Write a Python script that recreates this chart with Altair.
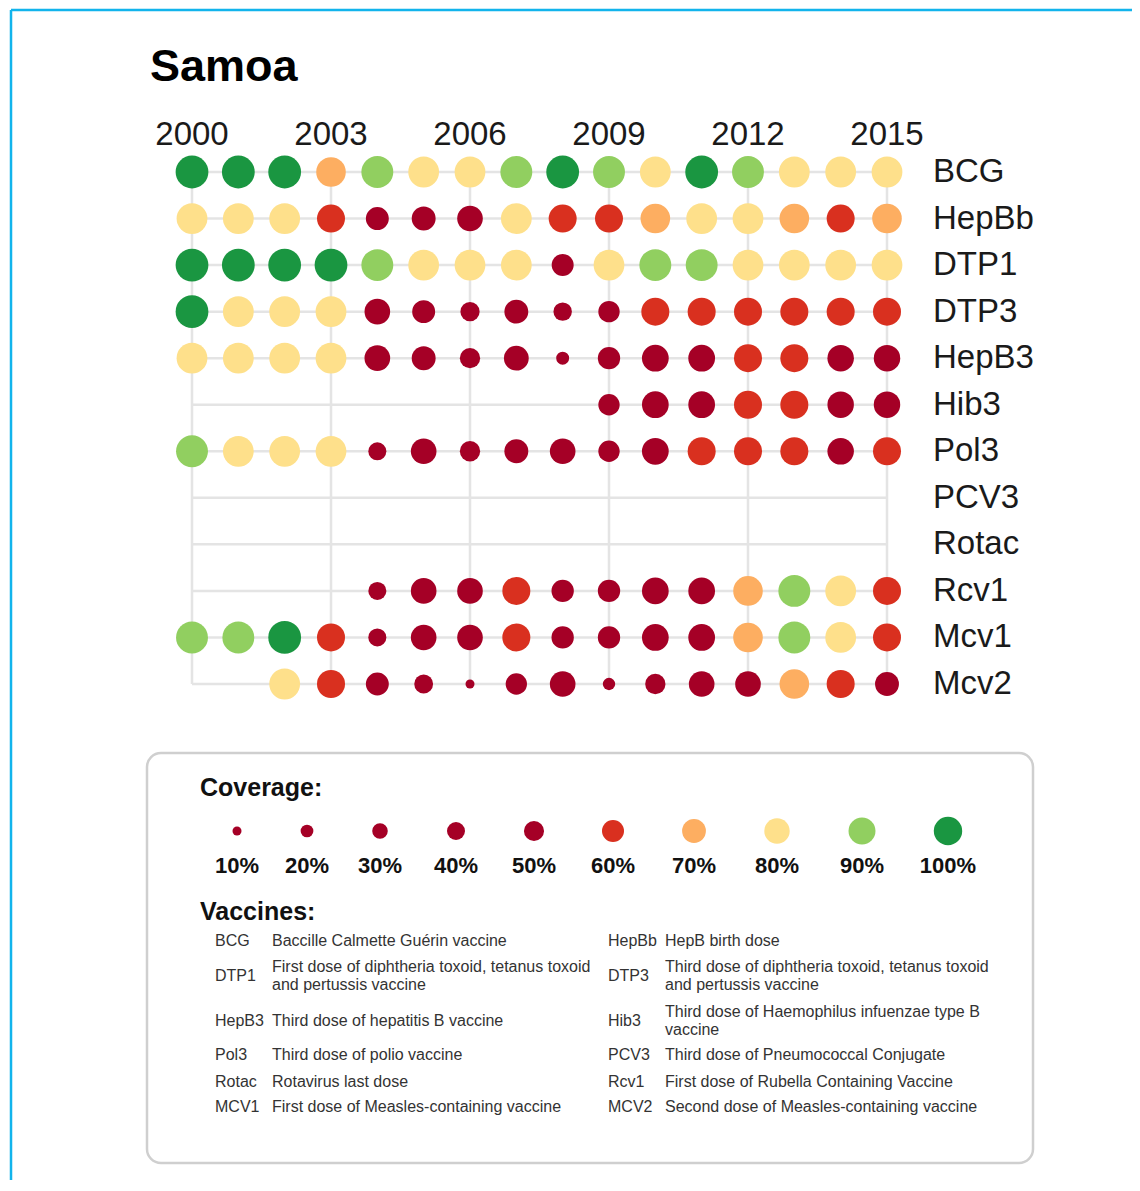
import altair as alt
import pandas as pd

# ---------------- data ----------------
country = "Samoa"
years = list(range(2000, 2016))
vaccines = ["BCG", "HepBb", "DTP1", "DTP3", "HepB3", "Hib3", "Pol3",
            "PCV3", "Rotac", "Rcv1", "Mcv1", "Mcv2"]

BCG   = [98, 98, 98, 70, 90, 80, 80, 90, 98, 90, 80, 98, 90, 80, 80, 80]
HepBb = [80, 80, 80, 60, 41, 44, 50, 80, 60, 60, 70, 80, 80, 70, 60, 70]
DTP1  = [98, 98, 98, 98, 90, 80, 80, 80, 38, 80, 90, 90, 80, 80, 80, 80]
DTP3  = [98, 80, 80, 80, 50, 41, 30, 44, 28, 36, 60, 60, 60, 60, 60, 60]
HepB3 = [80, 80, 80, 80, 50, 44, 33, 47, 16, 39, 54, 54, 60, 60, 53, 53]
Hib3  = [None] * 9 + [36, 54, 54, 60, 60, 53, 53]
Pol3  = [90, 80, 80, 80, 27, 50, 33, 44, 50, 36, 54, 60, 60, 60, 53, 60]
PCV3  = [None] * 16
Rotac = [None] * 16
Rcv1  = [None] * 4 + [27, 50, 50, 60, 39, 39, 54, 54, 70, 90, 80, 60]
Mcv1  = [90, 90, 98, 60, 27, 50, 50, 60, 39, 39, 54, 54, 70, 90, 80, 60]
Mcv2  = [None, None, 80, 60, 41, 29, 10, 36, 50, 15, 33, 50, 50, 70, 60, 44]

series = [BCG, HepBb, DTP1, DTP3, HepB3, Hib3, Pol3, PCV3, Rotac, Rcv1, Mcv1, Mcv2]

tick_years = [2000, 2003, 2006, 2009, 2012, 2015]
legend_levels = [10, 20, 30, 40, 50, 60, 70, 80, 90, 100]
legend_labels = ["10%", "20%", "30%", "40%", "50%", "60%", "70%", "80%", "90%", "100%"]

abbr_left = ["BCG", "DTP1", "HepB3", "Pol3", "Rotac", "MCV1"]
desc_left = ["Baccille Calmette Guérin vaccine",
             "First dose of diphtheria toxoid, tetanus toxoid\nand pertussis vaccine",
             "Third dose of hepatitis B vaccine",
             "Third dose of polio vaccine",
             "Rotavirus last dose",
             "First dose of Measles-containing vaccine"]
abbr_right = ["HepBb", "DTP3", "Hib3", "PCV3", "Rcv1", "MCV2"]
desc_right = ["HepB birth dose",
              "Third dose of diphtheria toxoid, tetanus toxoid\nand pertussis vaccine",
              "Third dose of Haemophilus infuenzae type B\nvaccine",
              "Third dose of Pneumococcal Conjugate",
              "First dose of Rubella Containing Vaccine",
              "Second dose of Measles-containing vaccine"]

# ---------------- tables built from the lists ----------------
dots = pd.DataFrame([
    {"vaccine": v, "year": y, "value": val}
    for v, s in zip(vaccines, series)
    for y, val in zip(years, s) if val is not None
])
hgrid = pd.DataFrame({"vaccine": vaccines, "start": years[0], "end": years[-1]})
vgrid = pd.DataFrame({"year": tick_years, "top": vaccines[0], "bottom": vaccines[-1]})
ylab = pd.DataFrame({"year": tick_years, "label": [str(y) for y in tick_years]})
vlab = pd.DataFrame({"vaccine": vaccines})
leg = pd.DataFrame({"level": legend_levels, "label": legend_labels})
table = pd.DataFrame(
    [{"abbr": a, "desc": d, "col": 0, "row": i} for i, (a, d) in enumerate(zip(abbr_left, desc_left))] +
    [{"abbr": a, "desc": d, "col": 1, "row": i} for i, (a, d) in enumerate(zip(abbr_right, desc_right))]
)
table["lines"] = table["desc"].str.count("\n") + 1
one = pd.DataFrame({"k": [0]})

# ---------------- styles ----------------
FONT = "Liberation Sans"
COLORS = ["#a50026", "#d9301f", "#fdae61", "#fee08b", "#91cf60", "#1a9641"]
THRESH = [55, 65, 75, 85, 95]
GRID = "#e4e4e4"

xs = alt.Scale(domain=[2000, 2015], range=[184, 879])
ys = alt.Scale(type="point", domain=vaccines, range=[164, 676], padding=0)
color_s = alt.Scale(type="threshold", domain=THRESH, range=COLORS)
size_s = alt.Scale(type="linear", domain=[0, 10, 55, 65, 100], range=[0, 81, 729, 841, 1089])

W, H = 1124, 1172

frame_left = alt.Chart(one).mark_rule(color="#12b4ec", strokeWidth=2.5).encode(
    x=alt.value(3), y=alt.value(2), y2=alt.value(H))
frame_top = alt.Chart(one).mark_rule(color="#12b4ec", strokeWidth=2.5).encode(
    y=alt.value(2), x=alt.value(3), x2=alt.value(W))

title = alt.Chart(one).mark_text(
    text=country, font=FONT, fontSize=45, fontWeight="bold", align="left",
    baseline="alphabetic", color="#000").encode(x=alt.value(142), y=alt.value(73))

hlines = alt.Chart(hgrid).mark_rule(color=GRID, strokeWidth=2.5).encode(
    x=alt.X("start:Q", scale=xs, axis=None), x2="end:Q",
    y=alt.Y("vaccine:N", scale=ys, axis=None))
vlines = alt.Chart(vgrid).mark_rule(color=GRID, strokeWidth=2.5).encode(
    x=alt.X("year:Q", scale=xs, axis=None),
    y=alt.Y("top:N", scale=ys, axis=None), y2="bottom:N")

points = alt.Chart(dots).mark_circle(opacity=1).encode(
    x=alt.X("year:Q", scale=xs, axis=None),
    y=alt.Y("vaccine:N", scale=ys, axis=None),
    color=alt.Color("value:Q", scale=color_s, legend=None),
    size=alt.Size("value:Q", scale=size_s, legend=None))

year_text = alt.Chart(ylab).mark_text(
    font=FONT, fontSize=33, align="center", baseline="alphabetic", color="#1a1a1a").encode(
    x=alt.X("year:Q", scale=xs, axis=None), y=alt.value(137), text="label:N")

vac_text = alt.Chart(vlab).mark_text(
    font=FONT, fontSize=33, align="left", baseline="middle", color="#1a1a1a").encode(
    x=alt.value(925), y=alt.Y("vaccine:N", scale=ys, axis=None), text="vaccine:N")

box = alt.Chart(one).mark_rect(
    fill="#ffffff", stroke="#cfcfcf", strokeWidth=2.5, cornerRadius=14).encode(
    x=alt.value(139), x2=alt.value(1025), y=alt.value(745), y2=alt.value(1155))

cov_title = alt.Chart(one).mark_text(
    text="Coverage:", font=FONT, fontSize=25, fontWeight="bold", align="left",
    baseline="alphabetic", color="#111").encode(x=alt.value(192), y=alt.value(788))
vac_title = alt.Chart(one).mark_text(
    text="Vaccines:", font=FONT, fontSize=25, fontWeight="bold", align="left",
    baseline="alphabetic", color="#111").encode(x=alt.value(192), y=alt.value(912))

leg_x = alt.Scale(domain=legend_levels, range=[229, 299, 372, 448, 526, 605, 686, 769, 854, 940])
leg_dots = alt.Chart(leg).mark_circle(opacity=1).encode(
    x=alt.X("level:Q", scale=leg_x, axis=None), y=alt.value(823),
    color=alt.Color("level:Q", scale=color_s, legend=None),
    size=alt.Size("level:Q", scale=alt.Scale(domain=[0, 100], range=[0, 807]), legend=None))
leg_text = alt.Chart(leg).mark_text(
    font=FONT, fontSize=22, fontWeight="bold", align="center", baseline="alphabetic",
    color="#111").encode(
    x=alt.X("level:Q", scale=leg_x, axis=None), y=alt.value(865), text="label:N")

row_y = alt.Scale(domain=[0, 1, 2, 3, 4, 5], range=[933, 968, 1013, 1047, 1074, 1099])
abbr_x = alt.Scale(domain=[0, 1], range=[207, 600])
desc_x = alt.Scale(domain=[0, 1], range=[264, 657])

abbr_text = alt.Chart(table).mark_text(
    font=FONT, fontSize=16, align="left", baseline="middle", color="#333").encode(
    x=alt.X("col:Q", scale=abbr_x, axis=None),
    y=alt.Y("row:Q", scale=row_y, axis=None), text="abbr:N")
desc_one = alt.Chart(table).transform_filter("datum.lines == 1").mark_text(
    font=FONT, fontSize=16, align="left", baseline="middle", color="#333").encode(
    x=alt.X("col:Q", scale=desc_x, axis=None),
    y=alt.Y("row:Q", scale=row_y, axis=None), text="desc:N")
desc_two = alt.Chart(table).transform_filter("datum.lines == 2").mark_text(
    font=FONT, fontSize=16, align="left", baseline="middle", color="#333",
    lineBreak="\n", lineHeight=18, dy=-9).encode(
    x=alt.X("col:Q", scale=desc_x, axis=None),
    y=alt.Y("row:Q", scale=row_y, axis=None), text="desc:N")

chart = alt.layer(
    frame_left, frame_top, title, hlines, vlines, points, year_text, vac_text,
    box, cov_title, vac_title, leg_dots, leg_text, abbr_text, desc_one, desc_two
).resolve_scale(
    x="independent", y="independent", color="independent", size="independent"
).properties(
    width=W, height=H, padding=0,
    autosize=alt.AutoSizeParams(type="none"),
    background="#ffffff"
).configure_view(stroke=None)

chart.save("out.html", embed_options={"renderer": "svg", "actions": False})
